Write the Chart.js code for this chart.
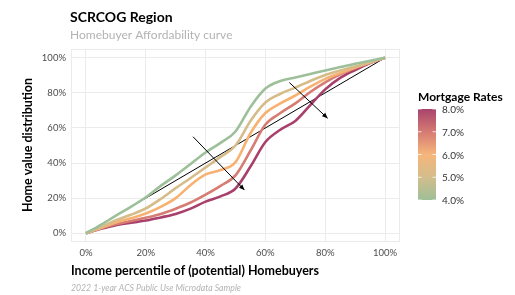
<!DOCTYPE html>
<html>
<head>
<meta charset="utf-8">
<script src="https://cdn.jsdelivr.net/npm/chart.js@4.4.1/dist/chart.umd.min.js"></script>
<style>
  body { margin: 0; background: #fff; }
  #wrap { width: 515px; height: 295px; position: relative; }
</style>
</head>
<body>
<div id="wrap"><canvas id="myChart" width="515" height="295"></canvas></div>
<script>
// income percentile (x) and home value share (y), one array per mortgage rate
const pct = [0, 5, 10, 15, 20, 25, 30, 35, 40, 45, 50, 55, 60, 65, 70, 75, 80, 85, 90, 95, 100];
const rate4 = [0, 4.8, 10, 15, 20.5, 27, 33, 39.5, 46, 51.5, 58, 72, 82.5, 86.8, 88.8, 90.8, 92.8, 94.7, 96.6, 98.3, 100];
const rate5 = [0, 3.5, 7.4, 10.5, 14.1, 19.5, 25.7, 31.5, 37.5, 43.5, 50, 64, 74.5, 79.5, 83, 86.8, 90.2, 92.7, 95, 97.5, 100];
const rate6 = [0, 3, 6.1, 8.5, 11.2, 15, 20, 27.5, 33.5, 36, 40.5, 57, 68.5, 74, 78.5, 83.5, 88, 91.3, 94.5, 97.3, 100];
const rate7 = [0, 2.8, 5.1, 7, 8.8, 11, 14, 17.5, 22, 27, 33, 47, 62, 68.5, 74, 80.5, 86, 90.5, 94, 97.2, 100];
const rate8 = [0, 2.5, 4.6, 6, 7.2, 9, 11, 14, 18, 21, 25.5, 38, 52, 59, 64, 73, 82, 88.5, 93, 97, 100];
const equality = [[0, 0], [100, 100]];
const arrows = [[[35.8, 55], [53, 24.6]], [[68, 85.9], [80.8, 65.5]]];
const ticksPct = [0, 20, 40, 60, 80, 100];
const legendRates = ['8.0%', '7.0%', '6.0%', '5.0%', '4.0%'];

const lineColors = ['#9dc09a', '#d5bc89', '#f7b273', '#d67c72', '#a8406b'];
const series = [rate4, rate5, rate6, rate7, rate8];

function pts(vals){
	let out = [];
	for (let i = 0; i < pct.length; i++){
		out.push({x: pct[i], y: vals[i]});
	}
	return out;
}

const datasets = series.map((s, i) => ({
	data: pts(s),
	borderColor: lineColors[i],
	borderWidth: 2.6,
	pointRadius: 0,
	cubicInterpolationMode: 'monotone',
	fill: false
}));
datasets.push({
	data: equality.map(p => ({x: p[0], y: p[1]})),
	borderColor: '#000',
	borderWidth: 1,
	pointRadius: 0,
	fill: false
});

const textFont = 'Lato, "Noto Sans", sans-serif';

const decor = {
	id: 'decor',
	beforeDatasetsDraw(chart){
		const {ctx, chartArea: a} = chart;
		ctx.save();
		ctx.strokeStyle = '#ebebeb';
		ctx.lineWidth = 1;
		ctx.strokeRect(a.left + 0.5, a.top + 0.5, a.right - a.left - 1, a.bottom - a.top - 1);
		ctx.restore();
	},
	afterDraw(chart){
		const {ctx} = chart;
		const xs = chart.scales.x, ys = chart.scales.y;
		ctx.save();
		// arrows
		ctx.strokeStyle = '#000';
		ctx.fillStyle = '#000';
		ctx.lineWidth = 1;
		arrows.forEach(ar => {
			const x1 = xs.getPixelForValue(ar[0][0]), y1 = ys.getPixelForValue(ar[0][1]);
			const x2 = xs.getPixelForValue(ar[1][0]), y2 = ys.getPixelForValue(ar[1][1]);
			ctx.beginPath(); ctx.moveTo(x1, y1); ctx.lineTo(x2, y2); ctx.stroke();
			const ang = Math.atan2(y2 - y1, x2 - x1);
			ctx.beginPath();
			ctx.moveTo(x2, y2);
			ctx.lineTo(x2 - 6 * Math.cos(ang - 0.4), y2 - 6 * Math.sin(ang - 0.4));
			ctx.lineTo(x2 - 6 * Math.cos(ang + 0.4), y2 - 6 * Math.sin(ang + 0.4));
			ctx.closePath(); ctx.fill();
		});
		// titles
		ctx.textBaseline = 'middle';
		ctx.textAlign = 'left';
		ctx.fillStyle = '#000';
		ctx.font = 'bold 14px ' + textFont;
		ctx.fillText('SCRCOG Region', 70, 17);
		ctx.fillStyle = '#b3b3b3';
		ctx.font = '12px ' + textFont;
		ctx.fillText('Homebuyer Affordability curve', 70, 35);
		ctx.fillStyle = '#000';
		ctx.font = 'bold 12.5px ' + textFont;
		ctx.fillText('Income percentile of (potential) Homebuyers', 71, 271);
		ctx.fillStyle = '#b3b3b3';
		ctx.font = 'italic 8.7px ' + textFont;
		ctx.fillText('2022 1-year ACS Public Use Microdata Sample', 71, 288);
		ctx.save();
		ctx.translate(28, 145);
		ctx.rotate(-Math.PI / 2);
		ctx.textAlign = 'center';
		ctx.fillStyle = '#000';
		ctx.font = 'bold 12.5px ' + textFont;
		ctx.fillText('Home value distribution', 0, 0);
		ctx.restore();
		// colour bar legend
		ctx.fillStyle = '#000';
		ctx.font = 'bold 12px ' + textFont;
		ctx.fillText('Mortgage Rates', 418, 97);
		const top = 109, bot = 200, left = 418, w = 18;
		const g = ctx.createLinearGradient(0, top, 0, bot);
		g.addColorStop(0, '#a8446d');
		g.addColorStop(0.25, '#d57a73');
		g.addColorStop(0.5, '#f6b67b');
		g.addColorStop(0.75, '#d3bd8c');
		g.addColorStop(1, '#9ebf97');
		ctx.fillStyle = g;
		ctx.fillRect(left, top, w, bot - top);
		ctx.font = '10px ' + textFont;
		legendRates.forEach((lab, i) => {
			const y = top + i * (bot - top) / 4;
			ctx.strokeStyle = 'rgba(255,255,255,0.8)';
			ctx.lineWidth = 1;
			ctx.beginPath();
			ctx.moveTo(left, y); ctx.lineTo(left + 3.5, y);
			ctx.moveTo(left + w - 3.5, y); ctx.lineTo(left + w, y);
			ctx.stroke();
			ctx.fillStyle = '#333';
			ctx.fillText(lab, 442, y + 1);
		});
		ctx.restore();
	}
};

const tickCfg = {
	color: '#4d4d4d',
	font: {family: textFont, size: 9.5},
	callback: v => v + '%'
};

new Chart(document.getElementById('myChart').getContext('2d'), {
	type: 'line',
	data: {datasets: datasets},
	options: {
		responsive: false,
		animation: false,
		layout: {padding: {left: 0, top: 49, right: 115, bottom: 33}},
		plugins: {legend: {display: false}, tooltip: {enabled: false}},
		scales: {
			x: {
				type: 'linear', min: -5, max: 105,
				afterBuildTicks: s => { s.ticks = ticksPct.map(v => ({value: v})); },
				afterFit: s => { s.height = 20; },
				grid: {color: '#ebebeb', lineWidth: 1, drawTicks: false},
				border: {display: false},
				ticks: Object.assign({padding: 5, maxRotation: 0}, tickCfg)
			},
			y: {
				type: 'linear', min: -5, max: 105,
				afterBuildTicks: s => { s.ticks = ticksPct.map(v => ({value: v})); },
				afterFit: s => { s.width = 71; },
				grid: {color: '#ebebeb', lineWidth: 1, drawTicks: false},
				border: {display: false},
				ticks: Object.assign({padding: 5}, tickCfg)
			}
		}
	},
	plugins: [decor]
});
</script>
</body>
</html>
